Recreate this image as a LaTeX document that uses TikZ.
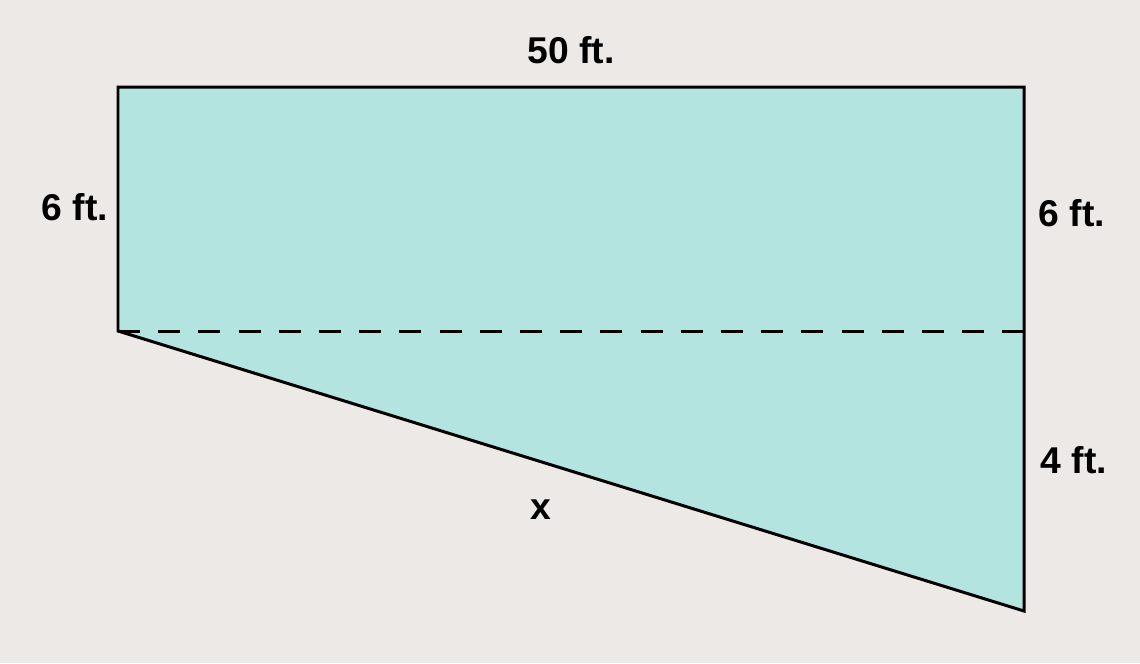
\documentclass[tikz,border=0pt]{standalone}
\usepackage{fontspec}
\setmainfont{Liberation Sans}
\usepackage{xcolor}
\definecolor{paper}{HTML}{EDE9E6}
\definecolor{pool}{HTML}{B3E4E0}
\usetikzlibrary{positioning}

\begin{document}
\begin{tikzpicture}[x=0.01cm,y=-0.01cm,
  dim/.style={font=\fontsize{10.6}{12}\selectfont\bfseries},
  edge/.style={line width=0.85pt,line join=miter}]
% background
\fill[paper] (0,0) rectangle (1140,663);
\useasboundingbox (0,0) rectangle (1140,663);

% corners
\coordinate (tl) at (118,87);
\coordinate (tr) at (1024,87);
\coordinate (ml) at (118,331);
\coordinate (mr) at (1024,331);
\coordinate (br) at (1024,611);

% shape
\fill[pool] (tl) -- (tr) -- (br) -- (ml) -- cycle;
\draw[edge] (tl) -- (tr) -- (br) -- (ml) -- cycle;

% water line
\draw[line width=0.85pt, dash pattern=on 6.26pt off 5.17pt] (ml) -- (mr);

% labels
\node[dim] (top) at (571,50) {50 ft.};
\node[dim] (left) at (75,207) {6 ft.};
\node[dim] (right) at (1072,213) {6 ft.};
\node[dim] (low) at (1074,460) {4 ft.};
\node[dim] (slope) at (541,510) {x};
\end{tikzpicture}
\end{document}
